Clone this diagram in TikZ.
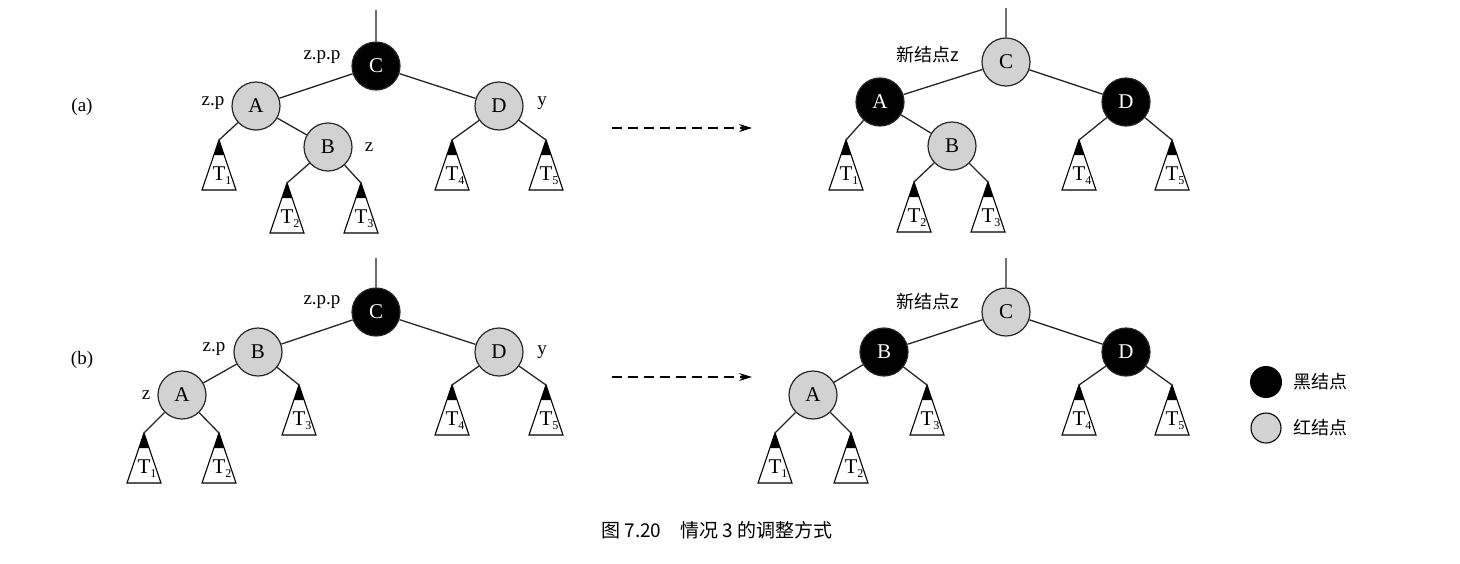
\documentclass[tikz,border=0pt]{standalone}
\usepackage{fontspec}
\usetikzlibrary{arrows.meta}
\setmainfont{Liberation Serif}
\newfontfamily\cjk{Noto Sans CJK SC}
\begin{document}
\begin{tikzpicture}[x=1pt,y=-1pt,
  rb/.style={circle,draw=black!85,line width=1.2pt,minimum size=48pt,inner sep=0pt,font=\fontsize{21}{21}\selectfont},
  blk/.style={rb,fill=black,text=white},
  gry/.style={rb,fill=gray!35},
  edge/.style={line width=1.3pt,draw=black!85},
  lab/.style={font=\fontsize{19}{19}\selectfont},
  clab/.style={font=\cjk\fontsize{18}{18}\selectfont},
  sub/.pic={
    \coordinate (-top) at (0,0);
    \draw[line width=1.1pt,fill=white] (0,0) -- (17,50) -- (-17,50) -- cycle;
    \fill (0,0) -- (5.2,15) -- (-5.2,15) -- cycle;
    \node[font=\fontsize{21}{21}\selectfont,inner sep=0pt] at (0,36) {T\rlap{\raisebox{-4pt}{\fontsize{12}{12}\selectfont\tikzpictext}}};
  }]
\useasboundingbox (0,0) rectangle (1460,563);
% ---------- (a) left
\node[lab] (la) at (82,107) {(a)};
\coordinate (ta) at (376,10);
\node[blk] (aC) at (376,66) {C};
\node[gry] (aA) at (256,106) {A};
\node[gry] (aB) at (328,147) {B};
\node[gry] (aD) at (499,106) {D};
\pic[pic text=1] (a1) at (219,140) {sub};
\pic[pic text=2] (a2) at (287,183) {sub};
\pic[pic text=3] (a3) at (361,183) {sub};
\pic[pic text=4] (a4) at (452,140) {sub};
\pic[pic text=5] (a5) at (546,140) {sub};
\draw[edge] (ta)--(aC) (aC)--(aA) (aC)--(aD) (aA)--(aB) (aA)--(a1-top) (aB)--(a2-top) (aB)--(a3-top) (aD)--(a4-top) (aD)--(a5-top);
\node[lab] at (322,57) {z.p.p};
\node[lab] at (213,103) {z.p};
\node[lab] at (369,147) {z};
\node[lab] at (542,103) {y};
% ---------- (a) right
\coordinate (tb) at (1006,8);
\node[gry] (bC) at (1006,62) {C};
\node[blk] (bA) at (880,102) {A};
\node[gry] (bB) at (952,146) {B};
\node[blk] (bD) at (1126,102) {D};
\pic[pic text=1] (b1) at (846,140) {sub};
\pic[pic text=2] (b2) at (914,182) {sub};
\pic[pic text=3] (b3) at (988,182) {sub};
\pic[pic text=4] (b4) at (1079,140) {sub};
\pic[pic text=5] (b5) at (1172,140) {sub};
\draw[edge] (tb)--(bC) (bC)--(bA) (bC)--(bD) (bA)--(bB) (bA)--(b1-top) (bB)--(b2-top) (bB)--(b3-top) (bD)--(b4-top) (bD)--(b5-top);
\node[clab] at (928,55) {新结点z};
% ---------- (b) left
\node[lab] (lb) at (82,360) {(b)};
\coordinate (tc) at (376,258);
\node[blk] (cC) at (376,312) {C};
\node[gry] (cB) at (258,352) {B};
\node[gry] (cA) at (182,395) {A};
\node[gry] (cD) at (499,352) {D};
\pic[pic text=1] (c1) at (144,433) {sub};
\pic[pic text=2] (c2) at (219,433) {sub};
\pic[pic text=3] (c3) at (299,385) {sub};
\pic[pic text=4] (c4) at (452,385) {sub};
\pic[pic text=5] (c5) at (546,385) {sub};
\draw[edge] (tc)--(cC) (cC)--(cB) (cC)--(cD) (cB)--(cA) (cB)--(c3-top) (cA)--(c1-top) (cA)--(c2-top) (cD)--(c4-top) (cD)--(c5-top);
\node[lab] at (322,302) {z.p.p};
\node[lab] at (214,349) {z.p};
\node[lab] at (146,395) {z};
\node[lab] at (542,352) {y};
% ---------- (b) right
\coordinate (td) at (1006,258);
\node[gry] (dC) at (1006,312) {C};
\node[blk] (dB) at (884,352) {B};
\node[gry] (dA) at (813,395) {A};
\node[blk] (dD) at (1126,352) {D};
\pic[pic text=1] (d1) at (775,433) {sub};
\pic[pic text=2] (d2) at (851,433) {sub};
\pic[pic text=3] (d3) at (927,385) {sub};
\pic[pic text=4] (d4) at (1079,385) {sub};
\pic[pic text=5] (d5) at (1172,385) {sub};
\draw[edge] (td)--(dC) (dC)--(dB) (dC)--(dD) (dB)--(dA) (dB)--(d3-top) (dA)--(d1-top) (dA)--(d2-top) (dD)--(d4-top) (dD)--(d5-top);
\node[clab] at (928,302) {新结点z};
% arrows
\coordinate (p1) at (612,128); \coordinate (q1) at (752,128);
\coordinate (p2) at (612,377); \coordinate (q2) at (752,377);
\tikzset{darr/.style={line width=1.2pt,dash pattern=on 10pt off 6pt,-{Stealth[length=13pt,width=8pt]}}}
\draw[darr] (p1)--(q1);
\draw[darr] (p2)--(q2);
% legend
\node[circle,fill=black,minimum size=32pt,inner sep=0pt] (lg1) at (1266,382) {};
\node[circle,draw,line width=1.1pt,fill=gray!35,minimum size=30pt,inner sep=0pt] (lg2) at (1266,428) {};
\node[clab,anchor=west] at (1290,382) {黑结点};
\node[clab,anchor=west] at (1290,428) {红结点};
% caption
\node[clab,font=\cjk\fontsize{19}{19}\selectfont] (cap) at (717,530) {图 7.20\quad 情况 3 的调整方式};
\end{tikzpicture}
\end{document}
